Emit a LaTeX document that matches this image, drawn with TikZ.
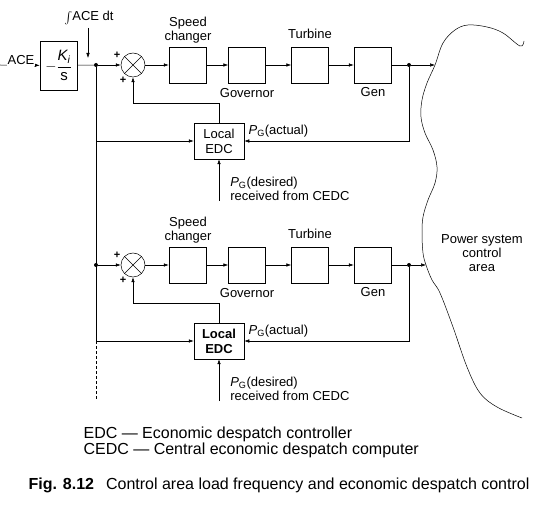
\documentclass[tikz,border=0pt]{standalone}
\usepackage{amsmath}
\usepackage{fontspec}
\setmainfont{Liberation Sans}
\usetikzlibrary{arrows.meta}

\begin{document}
\begin{tikzpicture}[x=1pt, y=-1pt, font=\fontsize{13}{14}\selectfont, line width=0.5pt,
  >={Latex[length=5pt,width=3.5pt]},
  block/.style={draw, minimum width=37pt, minimum height=36pt, inner sep=0pt},
  summer/.style={draw, circle, minimum size=24pt, inner sep=0pt},
  dot/.style={circle, fill, inner sep=0pt, minimum size=4pt},
  plus/.style={font=\fontsize{11}{11}\selectfont\bfseries, inner sep=0pt},
  note/.style={anchor=base west, font=\fontsize{16}{18}\selectfont}]
\useasboundingbox (0,0) rectangle (538,510);
% Integrator
\node[block, minimum height=49pt, font=\fontsize{15}{17}\selectfont] (ki) at (58.5,65.5) {$-\dfrac{\textit{K}_{\textit{i}}}{\textup{s}}$};
\coordinate (ace) at (0,65);
\draw[->] (ace) -- (ki);
\node[fill=white, inner sep=1pt] (acel) at (21,60) {ACE};
\node[anchor=base, inner sep=0pt] (intl) at (89,21) {$\int$ACE dt};
\coordinate (intout) at (88,28);
\coordinate (intin) at (88,58);
\draw[->] (intout) -- (intin);
% Two generating units
\foreach \y/\wt/\xe in {0/\mdseries/435, 200/\bfseries/426} {
  \node[dot] (in\y) at (96,65+\y) {};
  \node[summer] (sum\y) at (133,65+\y) {};
  \draw (sum\y.north west) -- (sum\y.south east) (sum\y.north east) -- (sum\y.south west);
  \node[plus] (pa\y) at (117,55+\y) {+};
  \node[plus] (pb\y) at (123,80+\y) {+};
  \node[block] (sc\y) at (187.5,65+\y) {};
  \node[block] (gov\y) at (247,65+\y) {};
  \node[block] (tur\y) at (310,65+\y) {};
  \node[block] (gen\y) at (372.5,65+\y) {};
  \node[align=center] (lsc\y) at (188,30+\y) {Speed\\changer};
  \node (lgov\y) at (247,93+\y) {Governor};
  \node (ltur\y) at (310,34+\y) {Turbine};
  \node (lgen\y) at (373,92+\y) {Gen};
  \node[dot] (out\y) at (409,65+\y) {};
  \coordinate (area\y) at (\xe,65+\y);
  \node[block, minimum width=50pt, align=center, font=\fontsize{13}{15}\selectfont\wt] (edc\y) at (219,141+\y) {Local\\EDC};
  \coordinate (tap\y) at (96,141+\y);
  \coordinate (cedc\y) at (219,201+\y);
  \node[anchor=west] (act\y) at (245,131+\y) {\textit{P}\textsubscript{G}(actual)};
  \node[anchor=west, align=left, inner sep=0pt] (des\y) at (230,189+\y) {\textit{P}\textsubscript{G}(desired)\\received from CEDC};
  \draw[->] (in\y) -- (sum\y);
  \draw[->] (sum\y) -- (sc\y);
  \draw[->] (sc\y) -- (gov\y);
  \draw[->] (gov\y) -- (tur\y);
  \draw[->] (tur\y) -- (gen\y);
  \draw (gen\y) -- (out\y);
  \draw[->] (out\y) -- (area\y);
  \draw[->] (out\y) |- (edc\y);
  \draw[->] (edc\y) -- ++(0,-38) -| (sum\y);
  \draw[->] (tap\y) -- (edc\y);
  \draw[->] (cedc\y) -- (edc\y);
}
\draw (ki) -- (in0);
\coordinate (more) at (96,400);
\draw (in0) -- (tap200);
\draw[dash pattern=on 3pt off 2pt] (tap200) -- (more);
% Control area
\draw plot[smooth, tension=0.6] coordinates {(524,41) (520,46) (503,33) (487,27) (468,25) (455,30)
  (443,43) (435,65) (427,83) (422,100) (421,117) (425,133) (433,150) (437,167) (435,183)
  (428,200) (423,217) (422,233) (423,253) (426,265) (432,280) (440,293) (453,327) (467,367)
  (480,393) (497,407) (522,418)};
\node[align=center] (psa) at (482,253) {Power system\\control\\area};
% Legend
\node[note] (leg1) at (80,438) {EDC --- Economic despatch controller};
\node[note] (leg2) at (80,454) {CEDC --- Central economic despatch computer};
\node[note] (cap) at (25,489) {\textbf{Fig. 8.12}\hspace{12pt}Control area load frequency and economic despatch control};
\end{tikzpicture}
\end{document}
